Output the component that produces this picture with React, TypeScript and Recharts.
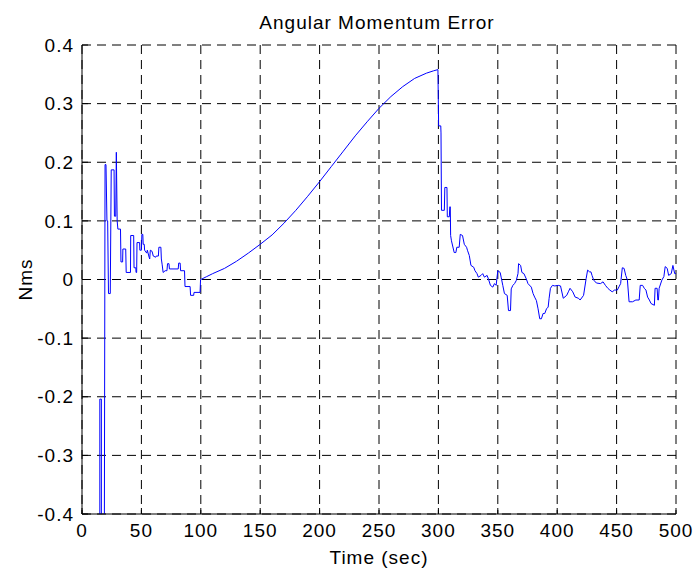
import React from 'react';
import { LineChart, Line, XAxis, YAxis, CartesianGrid, Label } from 'recharts';

// sample times (sec), zero-order-hold steps appear as repeated times
const timeSec = [
    15.0, 15.0, 16.3, 16.3, 18.8, 19.4, 20.2, 21.0, 21.6, 22.3, 23.8, 24.6, 27.0, 27.3, 28.4, 28.9,
    29.6, 30.2, 32.4, 32.8, 34.2, 34.4, 36.8, 37.2, 40.8, 41.0, 43.5, 43.8, 45.3, 45.5, 46.0, 46.3,
    48.5, 48.7, 50.0, 50.4, 51.2, 51.5, 52.4, 52.7, 54.5, 55.0, 56.5, 57.0, 57.5, 59.0, 60.0, 62.0,
    62.5, 64.3, 64.7, 66.4, 66.8, 67.5, 68.3, 70.0, 71.5, 72.0, 73.2, 73.6, 81.0, 81.4, 82.6, 83.0,
    86.3, 86.7, 91.0, 91.4, 94.0, 94.3, 99.4, 99.8,
    // slow drift
    100, 105, 110, 120, 130, 140, 150, 160, 170, 180, 190, 200, 210, 220, 230, 240, 250, 260, 270,
    280, 290, 296, 299.6,
    // after the reset at 300 s
    300.2, 302.0, 302.2, 302.6, 305.0, 305.4, 307.2, 307.5, 309.2, 309.6, 310.0, 310.3, 311.0,
    313.3, 314.7, 315.5, 317.5, 318.4, 320.3, 321.8, 323.7, 324.6, 326.0, 327.4, 329.7, 330.8,
    332.5, 333.6, 335.9, 337.3, 338.7, 341.0, 342.1, 343.8, 345.8, 347.2, 348.6, 350.0, 352.0,
    352.8, 354.2, 355.6, 357.9, 359.0, 360.7, 361.3, 362.7, 364.1, 365.5, 367.0, 367.5, 369.2,
    370.3, 372.0, 374.0, 375.4, 378.2, 379.7, 381.0, 382.5, 383.9, 385.3, 386.7, 388.1, 389.5,
    391.0, 392.4, 393.2, 394.3, 396.0, 398.0, 400.9, 402.8, 405.1, 408.0, 409.4, 410.8, 413.1,
    415.1, 417.9, 419.3, 422.2, 424.4, 425.6, 427.3, 428.4, 429.3, 430.7, 433.0, 436.4, 438.6,
    440.6, 442.6, 444.3, 446.3, 448.3, 450.6, 452.0, 453.4, 454.8, 456.3, 457.7, 459.1, 460.5,
    463.4, 466.2, 469.0, 469.9, 471.9, 473.3, 474.7, 476.1, 477.6, 479.0, 481.8, 482.4, 484.1,
    484.7, 485.2, 485.8, 488.1, 489.8, 490.9, 492.6, 493.8, 496.0, 497.4, 498.9, 500.0,
];

// angular momentum error (Nms)
const momentumErr = [
    -0.45, -0.204, -0.204, -0.45, -0.45, 0.196, 0.196, 0.1, 0.1, -0.024, -0.024, 0.187, 0.187, 0.108, 0.108, 0.217,
    0.1, 0.086, 0.086, 0.03, 0.03, 0.052, 0.052, 0.012, 0.012, 0.075, 0.075, 0.02, 0.02, 0.012, 0.012, 0.063,
    0.063, 0.05, 0.05, 0.077, 0.077, 0.06, 0.06, 0.05, 0.045, 0.05, 0.038, 0.035, 0.05, 0.048, 0.04, 0.038,
    0.04, 0.04, 0.055, 0.055, 0.035, 0.025, 0.012, 0.015, 0.015, 0.027, 0.027, 0.018, 0.018, 0.028, 0.028, 0.015,
    0.015, -0.012, -0.012, -0.027, -0.027, -0.022, -0.022, 0.0,
    0.0, 0.005, 0.01, 0.019, 0.031, 0.045, 0.06, 0.076, 0.096, 0.118, 0.142, 0.167, 0.193, 0.219, 0.245, 0.269, 0.292, 0.312, 0.329,
    0.343, 0.352, 0.356, 0.358,
    0.262, 0.262, 0.25, 0.118, 0.118, 0.157, 0.157, 0.107, 0.107, 0.124, 0.124, 0.075, 0.066,
    0.046, 0.046, 0.055, 0.055, 0.077, 0.075, 0.06, 0.055, 0.049, 0.041, 0.024, 0.021, 0.015,
    0.01, 0.004, 0.007, 0.01, 0.004, 0.007, 0.001, -0.01, -0.013, -0.007, -0.01, 0.015, 0.012,
    0.004, -0.01, -0.024, -0.027, -0.053, -0.053, -0.016, -0.01, -0.007, -0.002, 0.01, 0.027, 0.024,
    0.012, 0.01, 0.001, -0.007, -0.013, -0.024, -0.03, -0.036, -0.05, -0.067, -0.067, -0.058, -0.058,
    -0.05, -0.047, -0.032, -0.015, -0.01, -0.011, -0.01, -0.011, -0.032, -0.027, -0.021, -0.015, -0.021,
    -0.03, -0.032, -0.035, -0.027, 0.002, 0.016, 0.013, 0.013, 0.007, -0.001, -0.006, -0.007, -0.004,
    -0.01, -0.015, -0.018, -0.021, -0.018, -0.018, -0.0125, -0.007, 0.02, 0.019, 0.007, -0.001, -0.038,
    -0.038, -0.035, -0.035, -0.01, -0.01, -0.015, -0.018, -0.03, -0.035, -0.041, -0.044, -0.015, -0.015,
    -0.035, -0.035, -0.015, -0.001, 0.005, 0.022, 0.019, 0.007, 0.01, 0.024, 0.01, 0.01,
];

const xTicks = [0, 50, 100, 150, 200, 250, 300, 350, 400, 450, 500];
const yTicks = [-0.4, -0.3, -0.2, -0.1, 0, 0.1, 0.2, 0.3, 0.4];

const FONT = '"Liberation Sans", Arial, Helvetica, sans-serif';

export default function App() {
    const chartData = timeSec.map((t, i) => ({ t, err: momentumErr[i] }));

    const tickStyle = { fontSize: 19, fill: '#000', fontFamily: FONT, letterSpacing: 1 };
    const fmtY = (v: number) => (Math.abs(v) < 1e-9 ? '0' : v.toFixed(1));

    return (
        <div style={{ position: 'absolute', left: 0, top: 0, width: 697, height: 573, background: '#fff' }}>
            <LineChart
                width={697}
                height={573}
                data={chartData}
                margin={{ top: 45, right: 21, bottom: 0, left: 0 }}
            >
                <CartesianGrid stroke="#000" strokeDasharray="9 6" />
                <XAxis
                    dataKey="t"
                    type="number"
                    domain={[0, 500]}
                    ticks={xTicks}
                    height={59}
                    tickSize={-6}
                    tickMargin={16}
                    stroke="#000"
                    tick={tickStyle}
                    allowDataOverflow
                >
                    <Label value="Time (sec)" position="insideBottom" offset={9}
                        style={{ fontSize: 19, fill: '#000', fontFamily: FONT, letterSpacing: 1 }} />
                </XAxis>
                <XAxis
                    xAxisId="top"
                    orientation="top"
                    type="number"
                    domain={[0, 500]}
                    ticks={xTicks}
                    height={0}
                    tickSize={-6}
                    stroke="#000"
                    tickFormatter={() => ''}
                />
                <YAxis
                    type="number"
                    domain={[-0.4, 0.4]}
                    ticks={yTicks}
                    width={82}
                    tickSize={-6}
                    tickMargin={14}
                    stroke="#000"
                    tick={tickStyle}
                    tickFormatter={fmtY}
                    allowDataOverflow
                >
                    <Label value="Nms" angle={-90} position="insideLeft" offset={25}
                        style={{ textAnchor: 'middle', fontSize: 19, fill: '#000', fontFamily: FONT, letterSpacing: 1 }} />
                </YAxis>
                <YAxis
                    yAxisId="right"
                    orientation="right"
                    type="number"
                    domain={[-0.4, 0.4]}
                    ticks={yTicks}
                    width={0}
                    tickSize={-6}
                    stroke="#000"
                    tickFormatter={() => ''}
                />
                <Line
                    dataKey="err"
                    type="linear"
                    stroke="#0000ff"
                    strokeWidth={1}
                    dot={false}
                    isAnimationActive={false}
                />
            </LineChart>
            <svg width={697} height={40} style={{ position: 'absolute', left: 0, top: 0, pointerEvents: 'none' }}>
                <text x={377} y={28.5} textAnchor="middle" fontSize={19} fontFamily={FONT} letterSpacing={1} fill="#000">
                    Angular Momentum Error
                </text>
            </svg>
        </div>
    );
}
